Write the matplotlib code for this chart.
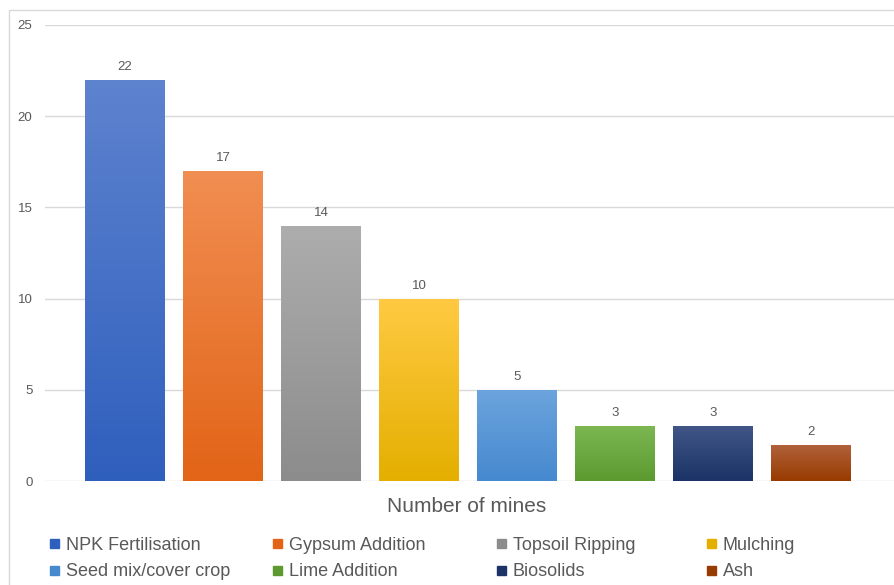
import numpy as np
import matplotlib
matplotlib.use("Agg")
import matplotlib.pyplot as plt
from matplotlib.colors import LinearSegmentedColormap
from matplotlib.patches import Rectangle

plt.rcParams['font.family'] = ['Liberation Sans', 'DejaVu Sans']

# Data
treatments = ["NPK Fertilisation", "Gypsum Addition", "Topsoil Ripping", "Mulching",
              "Seed mix/cover crop", "Lime Addition", "Biosolids", "Ash"]
mines = [22, 17, 14, 10, 5, 3, 3, 2]
top_colors = ["#5E83CF", "#F18E52", "#ADADAD", "#FFCA42",
              "#6CA4DD", "#7CB752", "#415687", "#B1623C"]
bottom_colors = ["#2F5FBD", "#E26417", "#8C8C8C", "#E4AF00",
                 "#4689CF", "#5C9A30", "#1B3366", "#983B00"]

W, H = 894, 585
fig = plt.figure(figsize=(W / 100, H / 100), dpi=100)

# outer chart border
fig.patches.append(Rectangle((9 / W, -0.01), 1.02, 1 - 10 / H + 0.01,
                             transform=fig.transFigure, fill=False,
                             edgecolor="#D9D9D9", lw=1))

ax = fig.add_axes([45 / W, 1 - 481 / H, 1 - 45 / W, (481 - 25) / H])
x = np.arange(len(mines))
width = 80 / 98
bars = ax.bar(x, mines, width=width, color="none", zorder=3)

# vertical gradient on each bar
grad = np.linspace(1, 0, 256).reshape(-1, 1)
for b, c1, c2 in zip(bars, top_colors, bottom_colors):
    cmap = LinearSegmentedColormap.from_list("g", [c2, c1])
    x0, y0 = b.get_x(), b.get_y()
    im = ax.imshow(grad, cmap=cmap, aspect="auto", zorder=3,
                   extent=[x0, x0 + b.get_width(), y0, y0 + b.get_height()])
    im.set_clip_path(b)

for xi, v in zip(x, mines):
    ax.annotate(str(v), (xi, v), xytext=(0, 5), textcoords="offset points",
                ha="center", va="bottom", fontsize=9.5, color="#595959")

ax.set_xlim((45 - 125) / 98, (894 - 125) / 98)
ax.set_ylim(0, 25)
ax.set_yticks([0, 5, 10, 15, 20, 25])
ax.yaxis.grid(True, color="#D9D9D9", lw=1)
ax.set_axisbelow(True)
ax.set_xticks([])
for s in ax.spines.values():
    s.set_visible(False)
ax.tick_params(axis="y", length=0, pad=9, labelsize=9.5, labelcolor="#595959")

fig.text(467 / W, 1 - 507 / H, "Number of mines", ha="center", va="center",
         fontsize=15, color="#595959")

# legend, 4 columns x 2 rows
col_x = [50, 273, 497, 707]
row_y = [545, 572]
for i, (name, c) in enumerate(zip(treatments, bottom_colors)):
    cx = col_x[i % 4]
    cy = row_y[i // 4]
    fig.patches.append(Rectangle((cx / W, 1 - (cy + 3) / H), 9 / W, 9 / H,
                                 transform=fig.transFigure, color=c))
    fig.text((cx + 16) / W, 1 - cy / H, name, ha="left", va="center",
             fontsize=13, color="#595959")

fig.savefig("out.png", dpi=100)
